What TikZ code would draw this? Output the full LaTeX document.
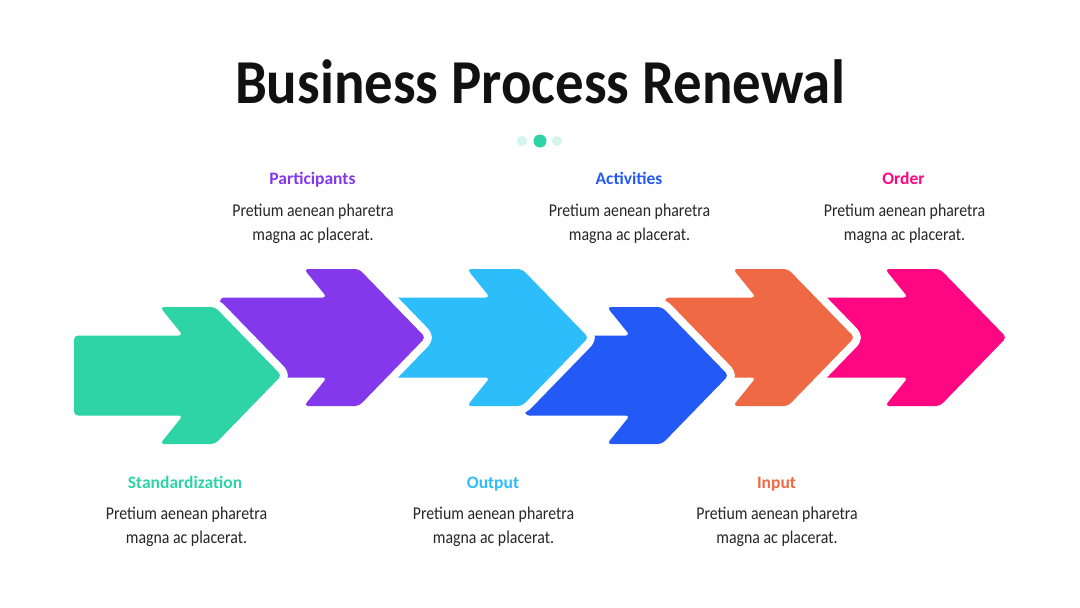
\documentclass[tikz,border=0pt]{standalone}
\usepackage{fontspec}
\setmainfont{Carlito}
\newfontfamily\bodyfont[FakeStretch=0.88]{Carlito}
\newfontfamily\titlefont[FakeStretch=0.91]{Carlito}
\definecolor{cgreen}{HTML}{2ED3A6}
\definecolor{cpurple}{HTML}{8338EC}
\definecolor{ccyan}{HTML}{2EBDFB}
\definecolor{cblue}{HTML}{2359F5}
\definecolor{corange}{HTML}{EF6945}
\definecolor{cpink}{HTML}{FF0682}
\definecolor{cpale}{HTML}{D4F5EB}
\definecolor{ctext}{HTML}{262626}
\definecolor{ctitle}{HTML}{111111}
\newcommand\BPArrow[4]{%
  \begin{scope}[shift={(#1,#2)}]
    \draw[halo] (-#3,-40) -- (-97,-40) -- (-120,-68.5) -- (-65,-68.5) -- (1.5,0)
      -- (-65,68.5) -- (-120,68.5) -- (-97,40) -- (-#3,40) -- cycle;
    \fill[#4, rounded corners=4pt] (-#3,-40) -- (-97,-40) -- (-120,-68.5) -- (-65,-68.5) -- (1.5,0)
      -- (-65,68.5) -- (-120,68.5) -- (-97,40) -- (-#3,40) -- cycle;
  \end{scope}}
\tikzset{
  halo/.style={draw=white, line width=16pt, line join=round, rounded corners=4pt},
  head/.style={font=\fontsize{17.5}{20}\selectfont\bfseries, anchor=base, inner sep=0pt},
  body/.style={font=\bodyfont\fontsize{18}{24}\selectfont, text=ctext, anchor=base, inner sep=0pt, align=center},
}
\begin{document}
\begin{tikzpicture}[x=1pt,y=-1pt]
\useasboundingbox[fill=white] (0,0) rectangle (1080,608);
% title
\node[anchor=base, inner sep=0pt, text=ctitle, font=\titlefont\bfseries\fontsize{62.5}{70}\selectfont] (title) at (540,103) {Business Process Renewal};
% dots
\fill[cpale] (522,141) circle (5);
\fill[cgreen] (540,141) circle (6.5);
\fill[cpale] (557,141) circle (5);
% arrows, bottom to top
\BPArrow{1005}{337.5}{185}{cpink}
\BPArrow{853}{337.5}{188}{corange}
\BPArrow{727}{375.5}{202}{cblue}
\BPArrow{587}{337.5}{200}{ccyan}
\BPArrow{424}{337.5}{204}{cpurple}
\BPArrow{280}{375.5}{206}{cgreen}
% top labels
\node[head, text=cpurple] (h2) at (312.5,184) {Participants};
\node[body] (b2a) at (313,216) {Pretium aenean pharetra};
\node[body] (b2b) at (313,240) {magna ac placerat.};
\node[head, text=cblue] (h4) at (629,184) {Activities};
\node[body] (b4a) at (629.5,216) {Pretium aenean pharetra};
\node[body] (b4b) at (629.5,240) {magna ac placerat.};
\node[head, text=cpink] (h6) at (903.5,184) {Order};
\node[body] (b6a) at (904.5,216) {Pretium aenean pharetra};
\node[body] (b6b) at (904.5,240) {magna ac placerat.};
% bottom labels
\node[head, text=cgreen] (h1) at (185,488) {Standardization};
\node[body] (b1a) at (186.5,519) {Pretium aenean pharetra};
\node[body] (b1b) at (186.5,543) {magna ac placerat.};
\node[head, text=ccyan] (h3) at (493,488) {Output};
\node[body] (b3a) at (493.5,519) {Pretium aenean pharetra};
\node[body] (b3b) at (493.5,543) {magna ac placerat.};
\node[head, text=corange] (h5) at (776.5,488) {Input};
\node[body] (b5a) at (777,519) {Pretium aenean pharetra};
\node[body] (b5b) at (777,543) {magna ac placerat.};
\end{tikzpicture}
\end{document}
